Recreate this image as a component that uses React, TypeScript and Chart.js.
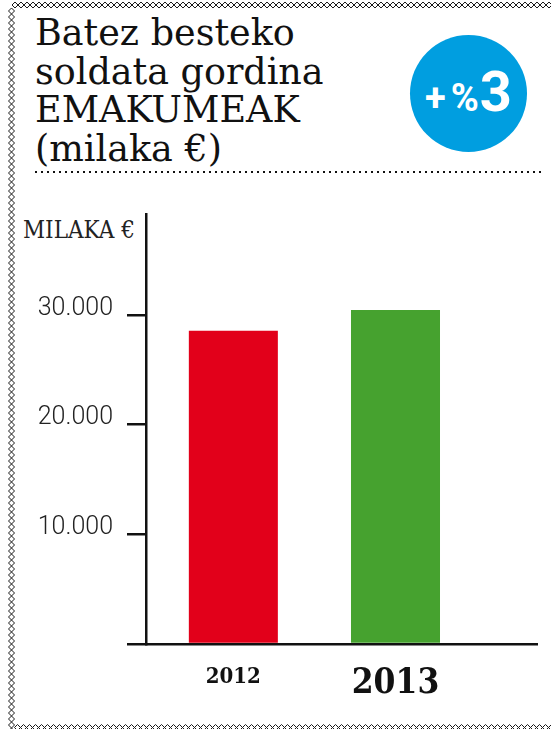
import React, { useEffect, useRef } from 'react';
import { Chart, registerables } from 'chart.js';

Chart.register(...registerables);

// ---- data ----
const years = ['2012', '2013'];
const values = [28550, 30450];
const barColors = ['#E2001A', '#46A22F'];
const yTickValues = [0, 10000, 20000, 30000];
const titleLines = ['Batez besteko', 'soldata gordina', 'EMAKUMEAK', '(milaka €)'];
const yAxisTitle = 'MILAKA €';
const badgeSign = '+';
const badgePercent = '%';
const badgeValue = '3';

const fmt = (v: number) =>
  v === 0 ? '' : String(v).replace(/\B(?=(\d{3})+(?!\d))/g, '.');

function diamondPath(centers: [number, number][], hw: number, hh: number) {
  return centers
    .map(([cx, cy]) => `M${cx - hw} ${cy}L${cx} ${cy - hh}L${cx + hw} ${cy}L${cx} ${cy + hh}Z`)
    .join('');
}

function borderPath() {
  const pts: [number, number][] = [];
  for (let x = 15; x < 556; x += 6) pts.push([x, 5]);
  for (let y = 11; y < 734; y += 6) pts.push([11.5, y]);
  for (let x = 17.5; x < 556; x += 6) pts.push([x, 727.5]);
  return diamondPath(pts, 3, 3);
}

const serif = '"DejaVu Serif Condensed", "DejaVu Serif", serif';

export default function App() {
  const ref = useRef<HTMLCanvasElement | null>(null);

  useEffect(() => {
    if (!ref.current) return;
    const chart = new Chart(ref.current, {
      type: 'bar',
      data: {
        datasets: [
          {
            data: values.map((v, i) => ({ x: i + 1, y: v })),
            backgroundColor: barColors,
            borderWidth: 0,
            barPercentage: 0.549,
            categoryPercentage: 1,
          },
        ],
      },
      options: {
        responsive: false,
        animation: false,
        devicePixelRatio: 1,
        layout: { padding: { left: 0, right: 14, top: 24, bottom: 0 } },
        plugins: {
          legend: { display: false },
          tooltip: { enabled: false },
          title: { display: false },
        },
        scales: {
          x: {
            type: 'linear',
            offset: false,
            min: 0.4613,
            max: 2.8727,
            grid: { display: false, drawTicks: false, tickLength: 0, offset: false },
            border: { display: true, color: '#111', width: 2.5 },
            afterBuildTicks: (s: any) => {
              s.ticks = years.map((_, i) => ({ value: i + 1 }));
            },
            afterFit: (s: any) => {
              s.height = 85;
              s.paddingLeft = 0;
              s.paddingRight = 0;
            },
            ticks: {
              autoSkip: false,
              maxRotation: 0,
              minRotation: 0,
              padding: 20,
              color: '#111',
              callback: (v: any) => years[Math.round(Number(v)) - 1] ?? '',
              font: (ctx: any) =>
                ctx.index === 1
                  ? { family: serif, size: 35, weight: 'bold', lineHeight: 1.13 }
                  : { family: serif, size: 22, weight: 'bold', lineHeight: 1.2 },
            },
          },
          y: {
            type: 'linear',
            min: 0,
            max: 39200,
            grid: {
              display: true,
              drawOnChartArea: false,
              drawTicks: true,
              tickLength: 19,
              color: '#111',
              lineWidth: 2.5,
            },
            border: { display: true, color: '#111', width: 2.5 },
            afterBuildTicks: (s: any) => {
              s.ticks = yTickValues.map((v) => ({ value: v }));
            },
            afterFit: (s: any) => {
              s.width = 146;
              s.paddingTop = 0;
              s.paddingBottom = 0;
            },
            ticks: {
              padding: 14,
              labelOffset: -6.5,
              color: '#222',
              font: { family: 'Roboto', size: 25, weight: 300 },
              callback: (v: any) => fmt(Number(v)),
            },
          },
        },
      },
    });
    return () => chart.destroy();
  }, []);

  return (
    <div
      style={{
        position: 'absolute',
        left: 0,
        top: 0,
        width: 551,
        height: 729,
        background: '#fff',
        overflow: 'hidden',
      }}
    >
      <svg
        width={551}
        height={729}
        style={{ position: 'absolute', left: 0, top: 0 }}
      >
        <path d={borderPath()} fill="none" stroke="#1a1a1a" strokeWidth={1} />
        <text
          x={35}
          fontFamily='"DejaVu Serif", serif'
          fontSize={36.5}
          fill="#111"
        >
          {titleLines.map((t, i) => (
            <tspan key={i} x={35} y={45 + i * 38.5}>
              {t}
            </tspan>
          ))}
        </text>
        <line
          x1={35}
          y1={172}
          x2={541}
          y2={172}
          stroke="#111"
          strokeWidth={2}
          strokeDasharray="2 4"
        />
        <circle cx={468.5} cy={93.5} r={58.5} fill="#009EE0" />
        <text
          x={468.5}
          y={111}
          textAnchor="middle"
          fontFamily="Roboto, sans-serif"
          fontWeight="bold"
          fill="#fff"
        >
          <tspan fontSize={38}>{badgeSign}</tspan>
          <tspan fontSize={38} dx={5}>{badgePercent}</tspan>
          <tspan fontSize={56} dx={1}>{badgeValue}</tspan>
        </text>
        <text x={23} y={238} fontFamily={serif} fontSize={24} fill="#222">
          {yAxisTitle}
        </text>
      </svg>
      <canvas
        ref={ref}
        width={551}
        height={539}
        style={{ position: 'absolute', left: 0, top: 190, width: 551, height: 539 }}
      />
    </div>
  );
}
